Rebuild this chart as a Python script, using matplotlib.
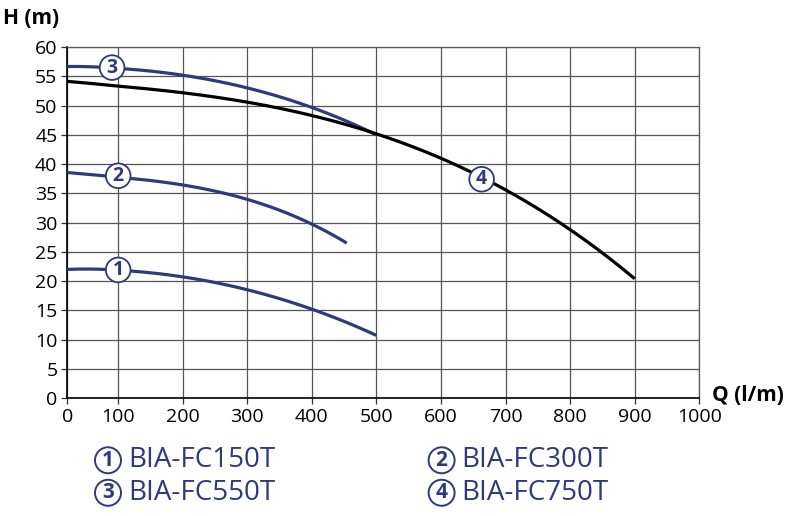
import matplotlib.pyplot as plt
import numpy as np

# values
q1 = [0, 50, 100, 200, 300, 400, 500]
h1 = [22.0, 22.0, 21.9, 20.7, 18.5, 15.2, 10.7]
q2 = [0, 50, 100, 200, 300, 400, 454]
h2 = [38.4, 38.3, 38.0, 36.2, 33.7, 30.3, 26.2]
q3 = [0, 50, 100, 200, 300, 400, 500]
h3 = [56.7, 56.6, 56.4, 55.2, 53.0, 49.7, 45.0]
q4 = [0, 100, 200, 300, 400, 500, 600, 700, 800, 900]
h4 = [54.0, 53.5, 52.3, 50.6, 48.2, 45.0, 40.9, 35.7, 29.1, 20.2]

labels = ['BIA-FC150T', 'BIA-FC300T', 'BIA-FC550T', 'BIA-FC750T']
# where the circled numbers sit on each curve
mark_q = [100, 100, 88, 663]
mark_h = [21.9, 38.0, 56.5, 37.4]

navy = '#2d3a7c'
plt.rcParams['font.family'] = ['Open Sans', 'DejaVu Sans']

# the original chart squeezes the first 0-100 column
k = 0.79
def fwd(q):
    q = np.asarray(q, dtype=float)
    return np.where(q < 100, q * k, 100 * k + (q - 100))
def inv(x):
    x = np.asarray(x, dtype=float)
    return np.where(x < 100 * k, x / k, x - 100 * k + 100)

fig = plt.figure(figsize=(8, 5.16), dpi=100)
ax = fig.add_axes([0.084, 0.2287, 0.790, 0.680])
ax.set_xscale('function', functions=(fwd, inv))

def smooth(q, h):
    c = np.polyfit(q, h, 3)
    qq = np.linspace(q[0], q[-1], 300)
    return qq, np.polyval(c, qq)

for q, h, col in [(q1, h1, navy), (q2, h2, navy), (q3, h3, navy), (q4, h4, 'black')]:
    qq, hh = smooth(q, h)
    ax.plot(qq, hh, color=col, lw=2.3, solid_capstyle='butt', zorder=3)

for i in range(4):
    ax.text(mark_q[i], mark_h[i], str(i + 1), ha='center', va='center',
            fontsize=14, fontweight='bold', color=navy, zorder=5,
            bbox=dict(boxstyle='circle,pad=0.12', fc='white', ec=navy, lw=1.3))

ax.set_xlim(0, 1000)
ax.set_ylim(0, 60)
ax.set_xticks(np.arange(0, 1001, 100))
ax.set_xticklabels([str(v) for v in range(0, 1001, 100)])
ax.set_yticks(np.arange(0, 61, 5))
ax.minorticks_off()
ax.grid(True, color='#555555', lw=0.9)
ax.set_axisbelow(True)
for s in ['top', 'right']:
    ax.spines[s].set_color('#555555')
    ax.spines[s].set_linewidth(0.9)
for s in ['left', 'bottom']:
    ax.spines[s].set_linewidth(1.2)
ax.tick_params(labelsize=14, length=4, width=0.9, pad=3, color='#333333')

fig.text(0.004, 0.965, 'H (m)', fontsize=15, fontweight='bold', ha='left', va='center')
fig.text(0.89, 0.234, 'Q (l/m)', fontsize=15, fontweight='bold', ha='left', va='center')

pos = [(0.135, 0.108), (0.552, 0.108), (0.135, 0.045), (0.552, 0.045)]
for i in range(4):
    x, y = pos[i]
    fig.text(x, y, str(i + 1), ha='center', va='center', fontsize=15,
             fontweight='bold', color=navy,
             bbox=dict(boxstyle='circle,pad=0.12', fc='white', ec=navy, lw=1.4))
    fig.text(x + 0.025, y, labels[i], ha='left', va='center', fontsize=20, color=navy)

fig.savefig('out.png', dpi=100)
